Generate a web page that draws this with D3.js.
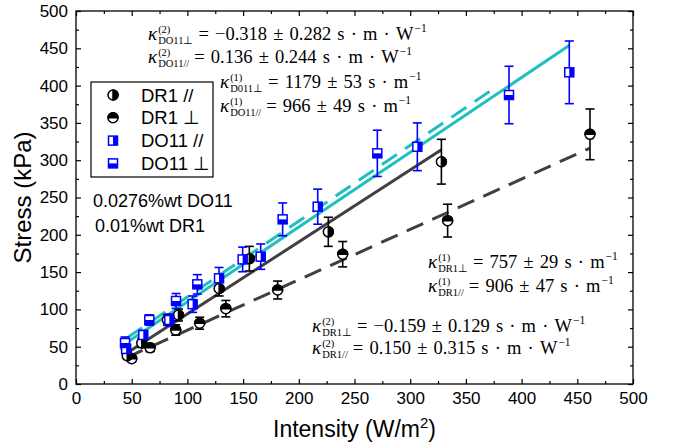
<!DOCTYPE html>
<html><head><meta charset="utf-8">
<script src="https://cdn.jsdelivr.net/npm/d3@7"></script>
<style>body{margin:0;background:#fff}svg{display:block}</style>
</head><body>
<svg id="c" width="678" height="447"></svg>
<script>
// ---- data ----
const xTicks = [0,50,100,150,200,250,300,350,400,450,500];
const yTicks = [0,50,100,150,200,250,300,350,400,450,500];

// DR1 parallel (right half filled circle)
const dr1ParX = [46, 59, 82, 92, 128.5, 155.6, 226.5, 328];
const dr1ParY = [38, 55, 86, 92.5, 128, 168, 204, 298];
const dr1ParE = [5, 6, 7, 8, 10, 16.5, 19.5, 30];
// DR1 perpendicular (top half filled circle)
const dr1PerpX = [50, 66.5, 89.5, 111, 134.5, 181, 239.4, 333.6, 461.4];
const dr1PerpY = [34, 48.5, 72.4, 81.5, 101, 126, 174, 219, 334.7];
const dr1PerpE = [4, 5, 7, 8, 11, 12, 17, 22, 34];
// DO11 parallel (right half filled square)
const do11ParX = [45, 60.4, 83.8, 104.7, 128.4, 149.6, 165.8, 217, 306.4, 442.8];
const do11ParY = [47, 65.7, 85.8, 107, 141.7, 167, 170.7, 237.7, 318, 417.8];
const do11ParE = [7, 6, 8, 11, 14.5, 16.5, 17, 23.5, 32, 42];
// DO11 perpendicular (bottom half filled square)
const do11PerpX = [44, 65.8, 89.8, 108.9, 185.5, 270.5, 388.7];
const do11PerpY = [55, 85.8, 111.3, 133.6, 220.7, 309.2, 387.4];
const do11PerpE = [8, 7, 10, 13, 22, 31, 38.5];

// fitted lines: [x0, y0, x1, y1]
const fitDR1Par = [44, 40, 328, 314];
const fitDR1Perp = [45, 35, 461, 316];
const fitDO11Par = [45, 55, 443, 454];
const fitDO11Perp = [46, 62, 377, 398];

const legendLabels = ["DR1 //", "DR1 \u22A5", "DO11 //", "DO11 \u22A5"];
const noteLines = ["0.0276%wt DO11", "0.01%wt DR1"];

// ---- drawing ----
const svg = d3.select("#c");
const x = d3.scaleLinear().domain([0,500]).range([76,633]);
const y = d3.scaleLinear().domain([0,500]).range([384,11]);
const BLUE = "#0000ff", GRAY = "#404040", CYAN = "#1fbfbf";

// fit lines
function fit(arr, color, dash){
  svg.append("line")
    .attr("x1", x(arr[0])).attr("y1", y(arr[1]))
    .attr("x2", x(arr[2])).attr("y2", y(arr[3]))
    .attr("stroke", color).attr("stroke-width", 3)
    .attr("stroke-dasharray", dash ? "18,10" : null);
}
fit(fitDR1Perp, GRAY, true);
fit(fitDR1Par, GRAY, false);
fit(fitDO11Perp, CYAN, true);
fit(fitDO11Par, CYAN, false);

// error bars
function errs(xs, ys, es, color){
  xs.forEach((xv,i)=>{
    const g = svg.append("g").attr("stroke", color).attr("stroke-width", 1.6);
    const cx = x(xv), t = y(ys[i]+es[i]), b = y(ys[i]-es[i]);
    g.append("line").attr("x1",cx).attr("x2",cx).attr("y1",t).attr("y2",b);
    g.append("line").attr("x1",cx-4.5).attr("x2",cx+4.5).attr("y1",t).attr("y2",t);
    g.append("line").attr("x1",cx-4.5).attr("x2",cx+4.5).attr("y1",b).attr("y2",b);
  });
}
errs(dr1ParX, dr1ParY, dr1ParE, "#000");
errs(dr1PerpX, dr1PerpY, dr1PerpE, "#000");
errs(do11ParX, do11ParY, do11ParE, BLUE);
errs(do11PerpX, do11PerpY, do11PerpE, BLUE);

// markers
function circ(g, cx, cy, kind){
  const r = 5;
  g.append("circle").attr("cx",cx).attr("cy",cy).attr("r",r).attr("fill","#fff").attr("stroke","#000").attr("stroke-width",1.5);
  const p = kind==="par"
    ? `M${cx},${cy-r}A${r},${r} 0 0 1 ${cx},${cy+r}Z`
    : `M${cx-r},${cy}A${r},${r} 0 0 1 ${cx+r},${cy}Z`;
  g.append("path").attr("d",p).attr("fill","#000").attr("stroke","#000").attr("stroke-width",1.5);
}
function sq(g, cx, cy, kind){
  const s = 4.5;
  g.append("rect").attr("x",cx-s).attr("y",cy-s).attr("width",2*s).attr("height",2*s).attr("fill","#fff").attr("stroke",BLUE).attr("stroke-width",1.5);
  if(kind==="par") g.append("rect").attr("x",cx).attr("y",cy-s).attr("width",s).attr("height",2*s).attr("fill",BLUE);
  else g.append("rect").attr("x",cx-s).attr("y",cy).attr("width",2*s).attr("height",s).attr("fill",BLUE);
}
const mk = svg.append("g");
dr1PerpX.forEach((v,i)=>circ(mk, x(v), y(dr1PerpY[i]), "perp"));
dr1ParX.forEach((v,i)=>circ(mk, x(v), y(dr1ParY[i]), "par"));
do11ParX.forEach((v,i)=>sq(mk, x(v), y(do11ParY[i]), "par"));
do11PerpX.forEach((v,i)=>sq(mk, x(v), y(do11PerpY[i]), "perp"));

// axes
const ax = svg.append("g").attr("font-family","Liberation Sans, Arial, sans-serif");
function tickAxis(gen, tr, vals, size, labels){
  const g = ax.append("g").attr("transform", tr)
    .call(gen.tickValues(vals).tickSize(size).tickSizeOuter(0).tickPadding(labels?8:0).tickFormat(labels? d3.format("d") : ""));
  g.select(".domain").remove();
  g.selectAll(".tick line").attr("stroke","#000").attr("stroke-width",1.2);
  g.selectAll("text").attr("font-size",17).attr("fill","#000").attr("font-family","Liberation Sans, Arial, sans-serif");
  return g;
}
const minorX = d3.range(25,500,50), minorY = d3.range(25,500,50);
tickAxis(d3.axisBottom(x), `translate(0,${y(0)})`, xTicks, -5, true);
tickAxis(d3.axisBottom(x), `translate(0,${y(0)})`, minorX, -3, false);
tickAxis(d3.axisTop(x), `translate(0,${y(500)})`, xTicks, -5, false);
tickAxis(d3.axisTop(x), `translate(0,${y(500)})`, minorX, -3, false);
tickAxis(d3.axisLeft(y), `translate(${x(0)},0)`, yTicks, -5, true);
tickAxis(d3.axisLeft(y), `translate(${x(0)},0)`, minorY, -3, false);
tickAxis(d3.axisRight(y), `translate(${x(500)},0)`, yTicks, -5, false);
tickAxis(d3.axisRight(y), `translate(${x(500)},0)`, minorY, -3, false);
ax.append("rect").attr("x",x(0)).attr("y",y(500)).attr("width",x(500)-x(0)).attr("height",y(0)-y(500))
  .attr("fill","none").attr("stroke","#000").attr("stroke-width",1.3);

// axis titles
const xt = svg.append("text").attr("x",(x(0)+x(500))/2).attr("y",437).attr("text-anchor","middle")
  .attr("font-family","Liberation Sans, Arial, sans-serif").attr("font-size",23).attr("fill","#000");
xt.append("tspan").text("Intensity (W/m");
xt.append("tspan").text("2").attr("font-size",15).attr("dy",-9);
xt.append("tspan").text(")").attr("dy",9);
svg.append("text").attr("transform",`translate(31,${(y(0)+y(500))/2}) rotate(-90)`).attr("text-anchor","middle")
  .attr("font-family","Liberation Sans, Arial, sans-serif").attr("font-size",24).attr("fill","#000").text("Stress (kPa)");

// legend
const lg = svg.append("g");
lg.append("rect").attr("x",91).attr("y",82).attr("width",122).attr("height",95).attr("fill","#fff").attr("stroke","#000").attr("stroke-width",1.2);
const kinds = [["c","par"],["c","perp"],["s","par"],["s","perp"]];
legendLabels.forEach((t,i)=>{
  const cy = 95 + i*22.8;
  if(kinds[i][0]==="c") circ(lg, 113, cy, kinds[i][1]); else sq(lg, 113, cy, kinds[i][1]);
  lg.append("text").attr("x",141).attr("y",cy+6.5).attr("font-family","Liberation Sans, Arial, sans-serif")
    .attr("font-size",18.5).attr("fill","#000").text(t);
});
noteLines.forEach((t,i)=>{
  svg.append("text").attr("x",93+i*2).attr("y",207+i*25).attr("font-family","Liberation Sans, Arial, sans-serif")
    .attr("font-size",18).attr("fill","#000").text(t);
});

// math annotations
const SERIF = "Liberation Serif, Times New Roman, serif";
const S = "\u2004";
function kappa(x0, y0, sup, sub, rest, restSup){
  const g = svg.append("g").attr("font-family",SERIF).attr("fill","#000");
  const k = g.append("text").attr("x",x0).attr("y",y0).attr("font-size",19).attr("font-style","italic").text("\u03BA");
  let cx = x0 + k.node().getComputedTextLength() + 1;
  const s1 = g.append("text").attr("x",cx).attr("y",y0-7.5).attr("font-size",10.5).text(sup);
  const s2 = g.append("text").attr("x",cx).attr("y",y0+4).attr("font-size",10.5).text(sub);
  cx += Math.max(s1.node().getComputedTextLength(), s2.node().getComputedTextLength()) + 5;
  const r = g.append("text").attr("x",cx).attr("y",y0).attr("font-size",18.5).text(rest.replace(/ /g, S));
  cx += r.node().getComputedTextLength() + 1;
  g.append("text").attr("x",cx).attr("y",y0-8).attr("font-size",11.5).text(restSup);
}
kappa(148, 40, "(2)", "DO11\u22A5", "= \u22120.318 \u00B1 0.282 s \u00B7 m \u00B7 W", "\u22121");
kappa(148, 63, "(2)", "DO11//", "= 0.136 \u00B1 0.244 s \u00B7 m \u00B7 W", "\u22121");
kappa(220, 88, "(1)", "D011\u22A5", "= 1179 \u00B1 53 s \u00B7 m", "\u22121");
kappa(220, 112, "(1)", "DO11//", "= 966 \u00B1 49 s \u00B7 m", "\u22121");
kappa(428, 268, "(1)", "DR1\u22A5", "= 757 \u00B1 29 s \u00B7 m", "\u22121");
kappa(428, 292, "(1)", "DR1//", "= 906 \u00B1 47 s \u00B7 m", "\u22121");
kappa(312, 332, "(2)", "DR1\u22A5", "= \u22120.159 \u00B1 0.129 s \u00B7 m \u00B7 W", "\u22121");
kappa(312, 354, "(2)", "DR1//", "= 0.150 \u00B1 0.315 s \u00B7 m \u00B7 W", "\u22121");
</script>
</body></html>
